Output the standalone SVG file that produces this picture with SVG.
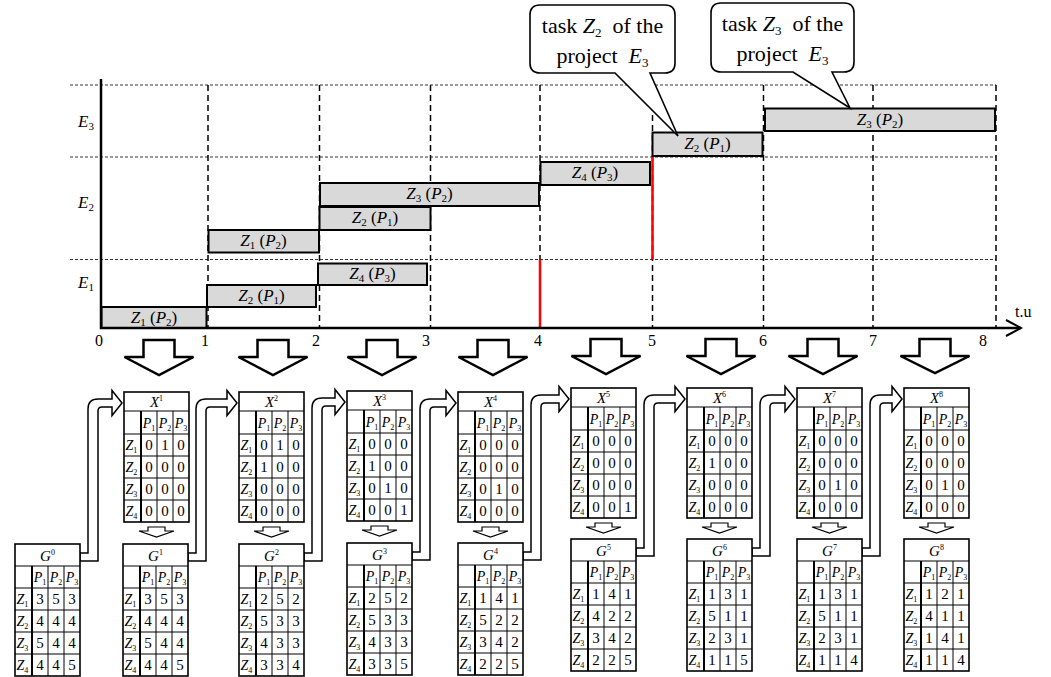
<svg xmlns="http://www.w3.org/2000/svg" xmlns:xlink="http://www.w3.org/1999/xlink" width="1051" height="677" viewBox="0 0 1051 677">
<style>
.s{font-family:"Liberation Serif","DejaVu Serif",serif;fill:#000}
.i{font-style:italic}
.v{font-size:15px;text-anchor:middle}
.ph{font-size:14px;font-style:italic;text-anchor:middle}
.zl{font-size:14px;font-style:italic}
.hd{font-size:15px;font-style:italic;text-anchor:middle}
.sb{font-size:8px;font-style:normal}
.sp{font-size:8px;font-style:normal}
.bl{font-size:17px;text-anchor:middle}
.bs{font-size:11px}
.tk{font-size:16px;text-anchor:middle}
.el{font-size:17px;font-style:italic}
.co{font-size:22px;text-anchor:middle}
.bar{fill:#d9d9d9;stroke:#000;stroke-width:2}
.hg{stroke:#333;stroke-width:1;stroke-dasharray:3 2;fill:none}
.vg{stroke:#000;stroke-width:1.5;stroke-dasharray:6 4;fill:none}
.big{fill:#fff;stroke:#000;stroke-width:2.5}
.sm{fill:#fff;stroke:#000;stroke-width:1.2}
.pipe{fill:#fff;stroke:#000;stroke-width:1.5}
.call{fill:#fff;stroke:#000;stroke-width:1.6}
</style>
<defs>
<g id="xgrid">
<rect width="65" height="130" fill="#fff" stroke="#000" stroke-width="1.6"/>
<path d="M0,19H65M0,42H65M0,64H65M0,86H65M0,108H65M33,19V130M49,19V130" stroke="#000" stroke-width="1" fill="none"/>
<path d="M17,19V130" stroke="#000" stroke-width="2"/>
</g>
<g id="ggrid">
<rect width="65" height="132" fill="#fff" stroke="#000" stroke-width="1.6"/>
<path d="M0,22H65M0,44H65M0,66H65M0,88H65M0,110H65M33,22V132M49,22V132" stroke="#000" stroke-width="1" fill="none"/>
<path d="M17,22V132" stroke="#000" stroke-width="2"/>
</g>
</defs>
<rect width="1051" height="677" fill="#fff"/>

<g id="grid">
<path class="hg" d="M70,85H996M70,157H996M70,259.5H996"/>
<path class="vg" d="M208,85V328M319.5,85V328M430.5,85V328M540,85V328M652.5,85V328M763.5,85V328M873,85V328M996,85V328"/>
<path d="M540,259.5V328M652.5,156V259.5" stroke="#ff0000" stroke-width="2.5"/>
</g>

<g id="bars">
<rect class="bar" x="101.5" y="307" width="105" height="21"/>
<text class="s bl" x="154" y="323"><tspan class="i">Z</tspan><tspan class="bs" dy="3">1</tspan><tspan dy="-3"> (</tspan><tspan class="i">P</tspan><tspan class="bs" dy="3">2</tspan><tspan dy="-3">)</tspan></text>
<rect class="bar" x="207" y="285" width="109" height="22"/>
<text class="s bl" x="261.5" y="301"><tspan class="i">Z</tspan><tspan class="bs" dy="3">2</tspan><tspan dy="-3"> (</tspan><tspan class="i">P</tspan><tspan class="bs" dy="3">1</tspan><tspan dy="-3">)</tspan></text>
<rect class="bar" x="318" y="263.5" width="109" height="21.5"/>
<text class="s bl" x="372.5" y="279"><tspan class="i">Z</tspan><tspan class="bs" dy="3">4</tspan><tspan dy="-3"> (</tspan><tspan class="i">P</tspan><tspan class="bs" dy="3">3</tspan><tspan dy="-3">)</tspan></text>
<rect class="bar" x="208.5" y="230" width="110.5" height="22.5"/>
<text class="s bl" x="263.5" y="246"><tspan class="i">Z</tspan><tspan class="bs" dy="3">1</tspan><tspan dy="-3"> (</tspan><tspan class="i">P</tspan><tspan class="bs" dy="3">2</tspan><tspan dy="-3">)</tspan></text>
<rect class="bar" x="319.5" y="207" width="111" height="23"/>
<text class="s bl" x="375" y="223"><tspan class="i">Z</tspan><tspan class="bs" dy="3">2</tspan><tspan dy="-3"> (</tspan><tspan class="i">P</tspan><tspan class="bs" dy="3">1</tspan><tspan dy="-3">)</tspan></text>
<rect class="bar" x="320" y="183" width="219" height="23"/>
<text class="s bl" x="429.5" y="199"><tspan class="i">Z</tspan><tspan class="bs" dy="3">3</tspan><tspan dy="-3"> (</tspan><tspan class="i">P</tspan><tspan class="bs" dy="3">2</tspan><tspan dy="-3">)</tspan></text>
<rect class="bar" x="540.5" y="162" width="109.5" height="23"/>
<text class="s bl" x="595" y="178"><tspan class="i">Z</tspan><tspan class="bs" dy="3">4</tspan><tspan dy="-3"> (</tspan><tspan class="i">P</tspan><tspan class="bs" dy="3">3</tspan><tspan dy="-3">)</tspan></text>
<rect class="bar" x="652.5" y="132.5" width="110" height="23.5"/>
<text class="s bl" x="707.5" y="149"><tspan class="i">Z</tspan><tspan class="bs" dy="3">2</tspan><tspan dy="-3"> (</tspan><tspan class="i">P</tspan><tspan class="bs" dy="3">1</tspan><tspan dy="-3">)</tspan></text>
<rect class="bar" x="765" y="108.5" width="230" height="22.5"/>
<text class="s bl" x="880" y="125"><tspan class="i">Z</tspan><tspan class="bs" dy="3">3</tspan><tspan dy="-3"> (</tspan><tspan class="i">P</tspan><tspan class="bs" dy="3">2</tspan><tspan dy="-3">)</tspan></text>
</g>

<g id="axes">
<path d="M101,79V328H1021" stroke="#000" stroke-width="2.5" fill="none"/>
<path d="M1006,320L1021,328L1006,336" stroke="#000" stroke-width="2" fill="none"/>
<text class="s" font-size="16" x="1015" y="317">t.u</text>
<text class="s tk" x="99" y="346">0</text>
<text class="s tk" x="205" y="346">1</text>
<text class="s tk" x="316" y="346">2</text>
<text class="s tk" x="426" y="346">3</text>
<text class="s tk" x="538" y="346">4</text>
<text class="s tk" x="652" y="346">5</text>
<text class="s tk" x="763" y="346">6</text>
<text class="s tk" x="873" y="346">7</text>
<text class="s tk" x="983" y="346">8</text>
<text class="s el" x="78" y="127">E<tspan class="bs" font-style="normal" dy="3">3</tspan></text>
<text class="s el" x="78" y="208">E<tspan class="bs" font-style="normal" dy="3">2</tspan></text>
<text class="s el" x="78" y="288">E<tspan class="bs" font-style="normal" dy="3">1</tspan></text>
</g>

<g id="callout1">
<path class="call" d="M540,5H665Q675,5 675,15V63Q675,73 665,73H650L678,136L615,73H540Q530,73 530,63V15Q530,5 540,5Z"/>
<text class="s co" x="602.5" y="33">task <tspan class="i">Z</tspan><tspan font-size="13" dy="4">2</tspan><tspan dy="-4">&#160; of the</tspan></text>
<text class="s co" x="602.5" y="63">project&#160; <tspan class="i">E</tspan><tspan font-size="13" dy="4">3</tspan></text>
</g>
<g id="callout2">
<path class="call" d="M721,3H844Q854,3 854,13V62Q854,72 844,72H832L850,108L793,72H721Q711,72 711,62V13Q711,3 721,3Z"/>
<text class="s co" x="782.5" y="31">task <tspan class="i">Z</tspan><tspan font-size="13" dy="4">3</tspan><tspan dy="-4">&#160; of the</tspan></text>
<text class="s co" x="782.5" y="61">project&#160; <tspan class="i">E</tspan><tspan font-size="13" dy="4">3</tspan></text>
</g>

<g id="connectors">
<path class="big" d="M143.5,340H174.5V357H193.5L159,375L124.5,357H143.5Z"/>
<path class="big" d="M257.5,340H288.5V357H307.5L273,375L238.5,357H257.5Z"/>
<path class="big" d="M366.5,340H397.5V357H416.5L382,375L347.5,357H366.5Z"/>
<path class="big" d="M477.5,340H508.5V357H527.5L493,375L458.5,357H477.5Z"/>
<path class="big" d="M590.5,339H621.5V356H640.5L606,374L571.5,356H590.5Z"/>
<path class="big" d="M705.5,339H736.5V356H755.5L721,374L686.5,356H705.5Z"/>
<path class="big" d="M807.5,339H838.5V356H857.5L823,374L788.5,356H807.5Z"/>
<path class="big" d="M919.5,339H950.5V356H969.5L935,373L900.5,356H919.5Z"/>
<path class="sm" d="M148,527H165V531H174L156.5,537L139,531H148Z"/>
<path class="sm" d="M263,527H280V531H289L271.5,537L254,531H263Z"/>
<path class="sm" d="M371,526H388V530H397L379.5,536L362,530H371Z"/>
<path class="sm" d="M482,527H499V531H508L490.5,537L473,531H482Z"/>
<path class="sm" d="M595,523H612V527H621L603.5,533L586,527H595Z"/>
<path class="sm" d="M711,523H728V527H737L719.5,533L702,527H711Z"/>
<path class="sm" d="M821,523H838V527H847L829.5,533L812,527H821Z"/>
<path class="sm" d="M928,523H945V527H954L936.5,533L919,527H928Z"/>
<path class="pipe" d="M80,553H88V409Q88,399 98,399H112V390.5L122,403L112,415.5V407H102Q98,407 98,411V561H80Z"/>
<path class="pipe" d="M188,553H196V409Q196,399 206,399H227V390.5L237,403L227,415.5V407H210Q206,407 206,411V561H188Z"/>
<path class="pipe" d="M304,553H312V408Q312,398 322,398H335V389.5L345,402L335,414.5V406H326Q322,406 322,410V561H304Z"/>
<path class="pipe" d="M412,552H420V409Q420,399 430,399H446V390.5L456,403L446,415.5V407H434Q430,407 430,411V560H412Z"/>
<path class="pipe" d="M523,552H531V405Q531,395 541,395H559V386.5L569,399L559,411.5V403H545Q541,403 541,407V560H523Z"/>
<path class="pipe" d="M636,548H644V405Q644,395 654,395H675V386.5L685,399L675,411.5V403H658Q654,403 654,407V556H636Z"/>
<path class="pipe" d="M752,548H760V405Q760,395 770,395H785V386.5L795,399L785,411.5V403H774Q770,403 770,407V556H752Z"/>
<path class="pipe" d="M862,548H870V405Q870,395 880,395H892V386.5L902,399L892,411.5V403H884Q880,403 880,407V556H862Z"/>
</g>

<g id="X1" transform="translate(124,392)">
<use href="#xgrid"/>
<text class="s hd" x="32.5" y="15">X<tspan class="sp" dy="-6">1</tspan></text>
<text class="s ph" x="25" y="36">P<tspan class="sb" dy="3">1</tspan></text>
<text class="s ph" x="41" y="36">P<tspan class="sb" dy="3">2</tspan></text>
<text class="s ph" x="57" y="36">P<tspan class="sb" dy="3">3</tspan></text>
<text class="s zl" x="1.5" y="58">Z<tspan class="sb" dy="3">1</tspan></text>
<text class="s zl" x="1.5" y="80">Z<tspan class="sb" dy="3">2</tspan></text>
<text class="s zl" x="1.5" y="102">Z<tspan class="sb" dy="3">3</tspan></text>
<text class="s zl" x="1.5" y="124">Z<tspan class="sb" dy="3">4</tspan></text>
<text class="s v" x="25 41 57" y="58">010</text>
<text class="s v" x="25 41 57" y="80">000</text>
<text class="s v" x="25 41 57" y="102">000</text>
<text class="s v" x="25 41 57" y="124">000</text>
</g>
<g id="X2" transform="translate(239,392)">
<use href="#xgrid"/>
<text class="s hd" x="32.5" y="15">X<tspan class="sp" dy="-6">2</tspan></text>
<text class="s ph" x="25" y="36">P<tspan class="sb" dy="3">1</tspan></text>
<text class="s ph" x="41" y="36">P<tspan class="sb" dy="3">2</tspan></text>
<text class="s ph" x="57" y="36">P<tspan class="sb" dy="3">3</tspan></text>
<text class="s zl" x="1.5" y="58">Z<tspan class="sb" dy="3">1</tspan></text>
<text class="s zl" x="1.5" y="80">Z<tspan class="sb" dy="3">2</tspan></text>
<text class="s zl" x="1.5" y="102">Z<tspan class="sb" dy="3">3</tspan></text>
<text class="s zl" x="1.5" y="124">Z<tspan class="sb" dy="3">4</tspan></text>
<text class="s v" x="25 41 57" y="58">010</text>
<text class="s v" x="25 41 57" y="80">100</text>
<text class="s v" x="25 41 57" y="102">000</text>
<text class="s v" x="25 41 57" y="124">000</text>
</g>
<g id="X3" transform="translate(347,391)">
<use href="#xgrid"/>
<text class="s hd" x="32.5" y="15">X<tspan class="sp" dy="-6">3</tspan></text>
<text class="s ph" x="25" y="36">P<tspan class="sb" dy="3">1</tspan></text>
<text class="s ph" x="41" y="36">P<tspan class="sb" dy="3">2</tspan></text>
<text class="s ph" x="57" y="36">P<tspan class="sb" dy="3">3</tspan></text>
<text class="s zl" x="1.5" y="58">Z<tspan class="sb" dy="3">1</tspan></text>
<text class="s zl" x="1.5" y="80">Z<tspan class="sb" dy="3">2</tspan></text>
<text class="s zl" x="1.5" y="102">Z<tspan class="sb" dy="3">3</tspan></text>
<text class="s zl" x="1.5" y="124">Z<tspan class="sb" dy="3">4</tspan></text>
<text class="s v" x="25 41 57" y="58">000</text>
<text class="s v" x="25 41 57" y="80">100</text>
<text class="s v" x="25 41 57" y="102">010</text>
<text class="s v" x="25 41 57" y="124">001</text>
</g>
<g id="X4" transform="translate(458,392)">
<use href="#xgrid"/>
<text class="s hd" x="32.5" y="15">X<tspan class="sp" dy="-6">4</tspan></text>
<text class="s ph" x="25" y="36">P<tspan class="sb" dy="3">1</tspan></text>
<text class="s ph" x="41" y="36">P<tspan class="sb" dy="3">2</tspan></text>
<text class="s ph" x="57" y="36">P<tspan class="sb" dy="3">3</tspan></text>
<text class="s zl" x="1.5" y="58">Z<tspan class="sb" dy="3">1</tspan></text>
<text class="s zl" x="1.5" y="80">Z<tspan class="sb" dy="3">2</tspan></text>
<text class="s zl" x="1.5" y="102">Z<tspan class="sb" dy="3">3</tspan></text>
<text class="s zl" x="1.5" y="124">Z<tspan class="sb" dy="3">4</tspan></text>
<text class="s v" x="25 41 57" y="58">000</text>
<text class="s v" x="25 41 57" y="80">000</text>
<text class="s v" x="25 41 57" y="102">010</text>
<text class="s v" x="25 41 57" y="124">000</text>
</g>
<g id="X5" transform="translate(571,388)">
<use href="#xgrid"/>
<text class="s hd" x="32.5" y="15">X<tspan class="sp" dy="-6">5</tspan></text>
<text class="s ph" x="25" y="36">P<tspan class="sb" dy="3">1</tspan></text>
<text class="s ph" x="41" y="36">P<tspan class="sb" dy="3">2</tspan></text>
<text class="s ph" x="57" y="36">P<tspan class="sb" dy="3">3</tspan></text>
<text class="s zl" x="1.5" y="58">Z<tspan class="sb" dy="3">1</tspan></text>
<text class="s zl" x="1.5" y="80">Z<tspan class="sb" dy="3">2</tspan></text>
<text class="s zl" x="1.5" y="102">Z<tspan class="sb" dy="3">3</tspan></text>
<text class="s zl" x="1.5" y="124">Z<tspan class="sb" dy="3">4</tspan></text>
<text class="s v" x="25 41 57" y="58">000</text>
<text class="s v" x="25 41 57" y="80">000</text>
<text class="s v" x="25 41 57" y="102">000</text>
<text class="s v" x="25 41 57" y="124">001</text>
</g>
<g id="X6" transform="translate(687,388)">
<use href="#xgrid"/>
<text class="s hd" x="32.5" y="15">X<tspan class="sp" dy="-6">6</tspan></text>
<text class="s ph" x="25" y="36">P<tspan class="sb" dy="3">1</tspan></text>
<text class="s ph" x="41" y="36">P<tspan class="sb" dy="3">2</tspan></text>
<text class="s ph" x="57" y="36">P<tspan class="sb" dy="3">3</tspan></text>
<text class="s zl" x="1.5" y="58">Z<tspan class="sb" dy="3">1</tspan></text>
<text class="s zl" x="1.5" y="80">Z<tspan class="sb" dy="3">2</tspan></text>
<text class="s zl" x="1.5" y="102">Z<tspan class="sb" dy="3">3</tspan></text>
<text class="s zl" x="1.5" y="124">Z<tspan class="sb" dy="3">4</tspan></text>
<text class="s v" x="25 41 57" y="58">000</text>
<text class="s v" x="25 41 57" y="80">100</text>
<text class="s v" x="25 41 57" y="102">000</text>
<text class="s v" x="25 41 57" y="124">000</text>
</g>
<g id="X7" transform="translate(797,388)">
<use href="#xgrid"/>
<text class="s hd" x="32.5" y="15">X<tspan class="sp" dy="-6">7</tspan></text>
<text class="s ph" x="25" y="36">P<tspan class="sb" dy="3">1</tspan></text>
<text class="s ph" x="41" y="36">P<tspan class="sb" dy="3">2</tspan></text>
<text class="s ph" x="57" y="36">P<tspan class="sb" dy="3">3</tspan></text>
<text class="s zl" x="1.5" y="58">Z<tspan class="sb" dy="3">1</tspan></text>
<text class="s zl" x="1.5" y="80">Z<tspan class="sb" dy="3">2</tspan></text>
<text class="s zl" x="1.5" y="102">Z<tspan class="sb" dy="3">3</tspan></text>
<text class="s zl" x="1.5" y="124">Z<tspan class="sb" dy="3">4</tspan></text>
<text class="s v" x="25 41 57" y="58">000</text>
<text class="s v" x="25 41 57" y="80">000</text>
<text class="s v" x="25 41 57" y="102">010</text>
<text class="s v" x="25 41 57" y="124">000</text>
</g>
<g id="X8" transform="translate(904,388)">
<use href="#xgrid"/>
<text class="s hd" x="32.5" y="15">X<tspan class="sp" dy="-6">8</tspan></text>
<text class="s ph" x="25" y="36">P<tspan class="sb" dy="3">1</tspan></text>
<text class="s ph" x="41" y="36">P<tspan class="sb" dy="3">2</tspan></text>
<text class="s ph" x="57" y="36">P<tspan class="sb" dy="3">3</tspan></text>
<text class="s zl" x="1.5" y="58">Z<tspan class="sb" dy="3">1</tspan></text>
<text class="s zl" x="1.5" y="80">Z<tspan class="sb" dy="3">2</tspan></text>
<text class="s zl" x="1.5" y="102">Z<tspan class="sb" dy="3">3</tspan></text>
<text class="s zl" x="1.5" y="124">Z<tspan class="sb" dy="3">4</tspan></text>
<text class="s v" x="25 41 57" y="58">000</text>
<text class="s v" x="25 41 57" y="80">000</text>
<text class="s v" x="25 41 57" y="102">010</text>
<text class="s v" x="25 41 57" y="124">000</text>
</g>

<g id="G0" transform="translate(15,544)">
<use href="#ggrid"/>
<text class="s hd" x="32.5" y="17">G<tspan class="sp" dy="-6">0</tspan></text>
<text class="s ph" x="25" y="38">P<tspan class="sb" dy="3">1</tspan></text>
<text class="s ph" x="41" y="38">P<tspan class="sb" dy="3">2</tspan></text>
<text class="s ph" x="57" y="38">P<tspan class="sb" dy="3">3</tspan></text>
<text class="s zl" x="1.5" y="60">Z<tspan class="sb" dy="3">1</tspan></text>
<text class="s zl" x="1.5" y="82">Z<tspan class="sb" dy="3">2</tspan></text>
<text class="s zl" x="1.5" y="104">Z<tspan class="sb" dy="3">3</tspan></text>
<text class="s zl" x="1.5" y="126">Z<tspan class="sb" dy="3">4</tspan></text>
<text class="s v" x="25 41 57" y="60">353</text>
<text class="s v" x="25 41 57" y="82">444</text>
<text class="s v" x="25 41 57" y="104">544</text>
<text class="s v" x="25 41 57" y="126">445</text>
</g>
<g id="G1" transform="translate(123,544)">
<use href="#ggrid"/>
<text class="s hd" x="32.5" y="17">G<tspan class="sp" dy="-6">1</tspan></text>
<text class="s ph" x="25" y="38">P<tspan class="sb" dy="3">1</tspan></text>
<text class="s ph" x="41" y="38">P<tspan class="sb" dy="3">2</tspan></text>
<text class="s ph" x="57" y="38">P<tspan class="sb" dy="3">3</tspan></text>
<text class="s zl" x="1.5" y="60">Z<tspan class="sb" dy="3">1</tspan></text>
<text class="s zl" x="1.5" y="82">Z<tspan class="sb" dy="3">2</tspan></text>
<text class="s zl" x="1.5" y="104">Z<tspan class="sb" dy="3">3</tspan></text>
<text class="s zl" x="1.5" y="126">Z<tspan class="sb" dy="3">4</tspan></text>
<text class="s v" x="25 41 57" y="60">353</text>
<text class="s v" x="25 41 57" y="82">444</text>
<text class="s v" x="25 41 57" y="104">544</text>
<text class="s v" x="25 41 57" y="126">445</text>
</g>
<g id="G2" transform="translate(239,544)">
<use href="#ggrid"/>
<text class="s hd" x="32.5" y="17">G<tspan class="sp" dy="-6">2</tspan></text>
<text class="s ph" x="25" y="38">P<tspan class="sb" dy="3">1</tspan></text>
<text class="s ph" x="41" y="38">P<tspan class="sb" dy="3">2</tspan></text>
<text class="s ph" x="57" y="38">P<tspan class="sb" dy="3">3</tspan></text>
<text class="s zl" x="1.5" y="60">Z<tspan class="sb" dy="3">1</tspan></text>
<text class="s zl" x="1.5" y="82">Z<tspan class="sb" dy="3">2</tspan></text>
<text class="s zl" x="1.5" y="104">Z<tspan class="sb" dy="3">3</tspan></text>
<text class="s zl" x="1.5" y="126">Z<tspan class="sb" dy="3">4</tspan></text>
<text class="s v" x="25 41 57" y="60">252</text>
<text class="s v" x="25 41 57" y="82">533</text>
<text class="s v" x="25 41 57" y="104">433</text>
<text class="s v" x="25 41 57" y="126">334</text>
</g>
<g id="G3" transform="translate(347,543)">
<use href="#ggrid"/>
<text class="s hd" x="32.5" y="17">G<tspan class="sp" dy="-6">3</tspan></text>
<text class="s ph" x="25" y="38">P<tspan class="sb" dy="3">1</tspan></text>
<text class="s ph" x="41" y="38">P<tspan class="sb" dy="3">2</tspan></text>
<text class="s ph" x="57" y="38">P<tspan class="sb" dy="3">3</tspan></text>
<text class="s zl" x="1.5" y="60">Z<tspan class="sb" dy="3">1</tspan></text>
<text class="s zl" x="1.5" y="82">Z<tspan class="sb" dy="3">2</tspan></text>
<text class="s zl" x="1.5" y="104">Z<tspan class="sb" dy="3">3</tspan></text>
<text class="s zl" x="1.5" y="126">Z<tspan class="sb" dy="3">4</tspan></text>
<text class="s v" x="25 41 57" y="60">252</text>
<text class="s v" x="25 41 57" y="82">533</text>
<text class="s v" x="25 41 57" y="104">433</text>
<text class="s v" x="25 41 57" y="126">335</text>
</g>
<g id="G4" transform="translate(458,543)">
<use href="#ggrid"/>
<text class="s hd" x="32.5" y="17">G<tspan class="sp" dy="-6">4</tspan></text>
<text class="s ph" x="25" y="38">P<tspan class="sb" dy="3">1</tspan></text>
<text class="s ph" x="41" y="38">P<tspan class="sb" dy="3">2</tspan></text>
<text class="s ph" x="57" y="38">P<tspan class="sb" dy="3">3</tspan></text>
<text class="s zl" x="1.5" y="60">Z<tspan class="sb" dy="3">1</tspan></text>
<text class="s zl" x="1.5" y="82">Z<tspan class="sb" dy="3">2</tspan></text>
<text class="s zl" x="1.5" y="104">Z<tspan class="sb" dy="3">3</tspan></text>
<text class="s zl" x="1.5" y="126">Z<tspan class="sb" dy="3">4</tspan></text>
<text class="s v" x="25 41 57" y="60">141</text>
<text class="s v" x="25 41 57" y="82">522</text>
<text class="s v" x="25 41 57" y="104">342</text>
<text class="s v" x="25 41 57" y="126">225</text>
</g>
<g id="G5" transform="translate(571,539)">
<use href="#ggrid"/>
<text class="s hd" x="32.5" y="17">G<tspan class="sp" dy="-6">5</tspan></text>
<text class="s ph" x="25" y="38">P<tspan class="sb" dy="3">1</tspan></text>
<text class="s ph" x="41" y="38">P<tspan class="sb" dy="3">2</tspan></text>
<text class="s ph" x="57" y="38">P<tspan class="sb" dy="3">3</tspan></text>
<text class="s zl" x="1.5" y="60">Z<tspan class="sb" dy="3">1</tspan></text>
<text class="s zl" x="1.5" y="82">Z<tspan class="sb" dy="3">2</tspan></text>
<text class="s zl" x="1.5" y="104">Z<tspan class="sb" dy="3">3</tspan></text>
<text class="s zl" x="1.5" y="126">Z<tspan class="sb" dy="3">4</tspan></text>
<text class="s v" x="25 41 57" y="60">141</text>
<text class="s v" x="25 41 57" y="82">422</text>
<text class="s v" x="25 41 57" y="104">342</text>
<text class="s v" x="25 41 57" y="126">225</text>
</g>
<g id="G6" transform="translate(687,539)">
<use href="#ggrid"/>
<text class="s hd" x="32.5" y="17">G<tspan class="sp" dy="-6">6</tspan></text>
<text class="s ph" x="25" y="38">P<tspan class="sb" dy="3">1</tspan></text>
<text class="s ph" x="41" y="38">P<tspan class="sb" dy="3">2</tspan></text>
<text class="s ph" x="57" y="38">P<tspan class="sb" dy="3">3</tspan></text>
<text class="s zl" x="1.5" y="60">Z<tspan class="sb" dy="3">1</tspan></text>
<text class="s zl" x="1.5" y="82">Z<tspan class="sb" dy="3">2</tspan></text>
<text class="s zl" x="1.5" y="104">Z<tspan class="sb" dy="3">3</tspan></text>
<text class="s zl" x="1.5" y="126">Z<tspan class="sb" dy="3">4</tspan></text>
<text class="s v" x="25 41 57" y="60">131</text>
<text class="s v" x="25 41 57" y="82">511</text>
<text class="s v" x="25 41 57" y="104">231</text>
<text class="s v" x="25 41 57" y="126">115</text>
</g>
<g id="G7" transform="translate(797,539)">
<use href="#ggrid"/>
<text class="s hd" x="32.5" y="17">G<tspan class="sp" dy="-6">7</tspan></text>
<text class="s ph" x="25" y="38">P<tspan class="sb" dy="3">1</tspan></text>
<text class="s ph" x="41" y="38">P<tspan class="sb" dy="3">2</tspan></text>
<text class="s ph" x="57" y="38">P<tspan class="sb" dy="3">3</tspan></text>
<text class="s zl" x="1.5" y="60">Z<tspan class="sb" dy="3">1</tspan></text>
<text class="s zl" x="1.5" y="82">Z<tspan class="sb" dy="3">2</tspan></text>
<text class="s zl" x="1.5" y="104">Z<tspan class="sb" dy="3">3</tspan></text>
<text class="s zl" x="1.5" y="126">Z<tspan class="sb" dy="3">4</tspan></text>
<text class="s v" x="25 41 57" y="60">131</text>
<text class="s v" x="25 41 57" y="82">511</text>
<text class="s v" x="25 41 57" y="104">231</text>
<text class="s v" x="25 41 57" y="126">114</text>
</g>
<g id="G8" transform="translate(904,539)">
<use href="#ggrid"/>
<text class="s hd" x="32.5" y="17">G<tspan class="sp" dy="-6">8</tspan></text>
<text class="s ph" x="25" y="38">P<tspan class="sb" dy="3">1</tspan></text>
<text class="s ph" x="41" y="38">P<tspan class="sb" dy="3">2</tspan></text>
<text class="s ph" x="57" y="38">P<tspan class="sb" dy="3">3</tspan></text>
<text class="s zl" x="1.5" y="60">Z<tspan class="sb" dy="3">1</tspan></text>
<text class="s zl" x="1.5" y="82">Z<tspan class="sb" dy="3">2</tspan></text>
<text class="s zl" x="1.5" y="104">Z<tspan class="sb" dy="3">3</tspan></text>
<text class="s zl" x="1.5" y="126">Z<tspan class="sb" dy="3">4</tspan></text>
<text class="s v" x="25 41 57" y="60">121</text>
<text class="s v" x="25 41 57" y="82">411</text>
<text class="s v" x="25 41 57" y="104">141</text>
<text class="s v" x="25 41 57" y="126">114</text>
</g>
</svg>
